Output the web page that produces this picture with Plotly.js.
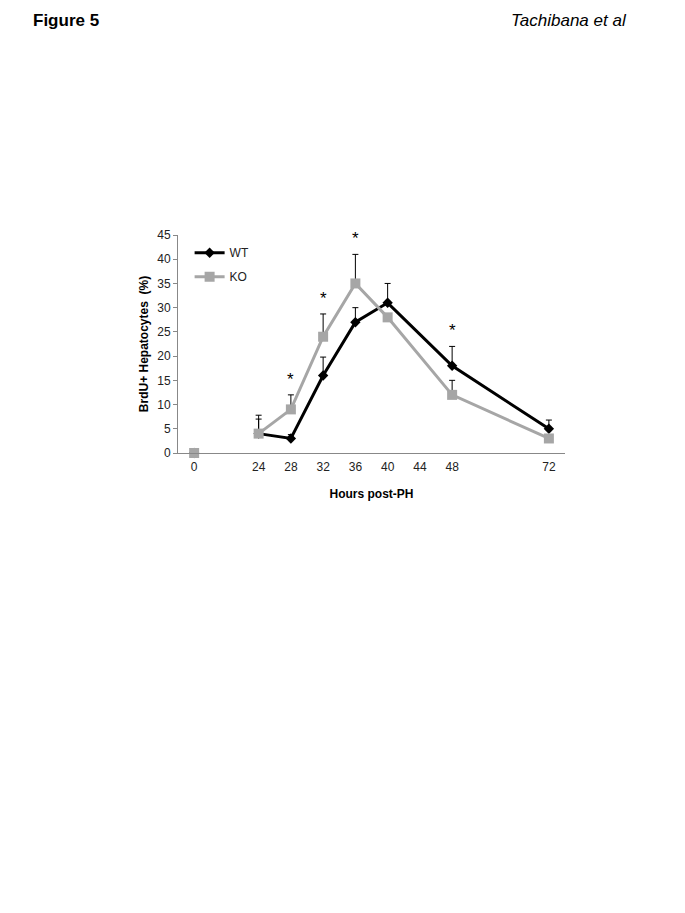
<!DOCTYPE html>
<html>
<head>
<meta charset="utf-8">
<script src="https://cdn.plot.ly/plotly-3.0.1.min.js"></script>
<style>
  body { margin: 0; background: #fff; }
  #target { width: 685px; height: 913px; }
</style>
</head>
<body>
<div id="target"></div>
<script>
// hours on the x axis, and the category slot each one sits in (Excel-style blanks)
var tickHours = [0, 24, 28, 32, 36, 40, 44, 48, 72];
var tickSlots = [0, 2, 3, 4, 5, 6, 7, 8, 11];

// measured time points (null breaks the line between 0 and 24)
var hours = [0, null, 24, 28, 32, 36, 40, 48, 72];
var wtMean = [0, null, 4, 3, 16, 27, 31, 18, 5];
var wtErr  = [0, null, 3, 0.8, 3.8, 3, 4, 4, 1.8];
var koMean = [0, null, 4, 9, 24, 35, 28, 12, 3];
var koErr  = [0, null, 3.8, 3, 4.7, 6, 0, 3, 0];

// significance marks
var sigHours = [28, 32, 36, 48];

function slotOf(h) {
  if (h === null) return 1;
  return tickSlots[tickHours.indexOf(h)];
}
var xs = hours.map(slotOf);

var traces = [
  {
    x: xs, y: wtMean, name: 'WT', type: 'scatter', mode: 'lines+markers',
    legendgroup: 'wt', cliponaxis: false,
    line: {color: '#000000', width: 3},
    marker: {symbol: 'diamond', size: 8, color: '#000000'},
    error_y: {type: 'data', symmetric: false, array: wtErr, arrayminus: wtErr.map(function() { return 0; }),
              color: '#000000', thickness: 1, width: 3},
    connectgaps: false
  },
  {
    x: xs, y: koMean, name: 'KO', type: 'scatter', mode: 'lines+markers',
    legendgroup: 'ko', cliponaxis: false,
    line: {color: '#a6a6a6', width: 3},
    marker: {symbol: 'square', size: 10, color: '#a6a6a6'},
    error_y: {type: 'data', symmetric: false, array: koErr, arrayminus: koErr.map(function() { return 0; }),
              color: '#000000', thickness: 1, width: 3},
    connectgaps: false
  }
];

var annotations = sigHours.map(function(h) {
  var i = hours.indexOf(h);
  var top = Math.max(wtMean[i] + wtErr[i], koMean[i] + koErr[i]);
  return {
    x: slotOf(h), y: top, xref: 'x', yref: 'y', text: '*', showarrow: false,
    yanchor: 'bottom', yshift: 4,
    font: {family: 'Liberation Sans, Arial', size: 17, color: '#000'}
  };
});

annotations.push({
  xref: 'paper', yref: 'paper', x: -0.38, y: 1.0, xanchor: 'left', yanchor: 'bottom',
  yshift: 203, text: '<b>Figure 5</b>', showarrow: false,
  font: {family: 'Liberation Sans, Arial', size: 17, color: '#000'}
});
annotations.push({
  xref: 'paper', yref: 'paper', x: 1.165, y: 1.0, xanchor: 'right', yanchor: 'bottom',
  yshift: 203, text: '<i>Tachibana et al</i>', showarrow: false,
  font: {family: 'Liberation Sans, Arial', size: 17, color: '#000'}
});

var layout = {
  width: 685,
  height: 913,
  margin: {l: 178, r: 120, t: 235, b: 460},
  paper_bgcolor: '#fff',
  plot_bgcolor: '#fff',
  showlegend: true,
  font: {family: 'Liberation Sans, Arial', size: 12, color: '#000'},
  xaxis: {
    range: [-0.5, 11.5],
    tickmode: 'array',
    tickvals: tickSlots,
    ticktext: tickHours.map(String),
    showgrid: false,
    zeroline: false,
    showline: true,
    linecolor: '#888888',
    linewidth: 1,
    ticks: '',
    ticklabelstandoff: 3,
    tickfont: {size: 12, color: '#222'},
    title: {text: '<b>Hours post-PH</b>', font: {size: 12}, standoff: 16}
  },
  yaxis: {
    range: [0, 45],
    tickmode: 'linear',
    tick0: 0,
    dtick: 5,
    showgrid: false,
    zeroline: false,
    showline: true,
    linecolor: '#888888',
    linewidth: 1,
    ticks: 'outside',
    ticklen: 4,
    tickcolor: '#888888',
    tickfont: {size: 12, color: '#222'},
    title: {text: '<b>BrdU+ Hepatocytes  (%)</b>', font: {size: 12}, standoff: 6}
  },
  legend: {
    x: 0.03, y: 0.985, xanchor: 'left', yanchor: 'top',
    bgcolor: 'rgba(0,0,0,0)',
    font: {size: 12, color: '#222'},
    itemwidth: 30,
    tracegroupgap: 5
  },
  annotations: annotations
};

Plotly.newPlot('target', traces, layout, {displayModeBar: false});
</script>
</body>
</html>
